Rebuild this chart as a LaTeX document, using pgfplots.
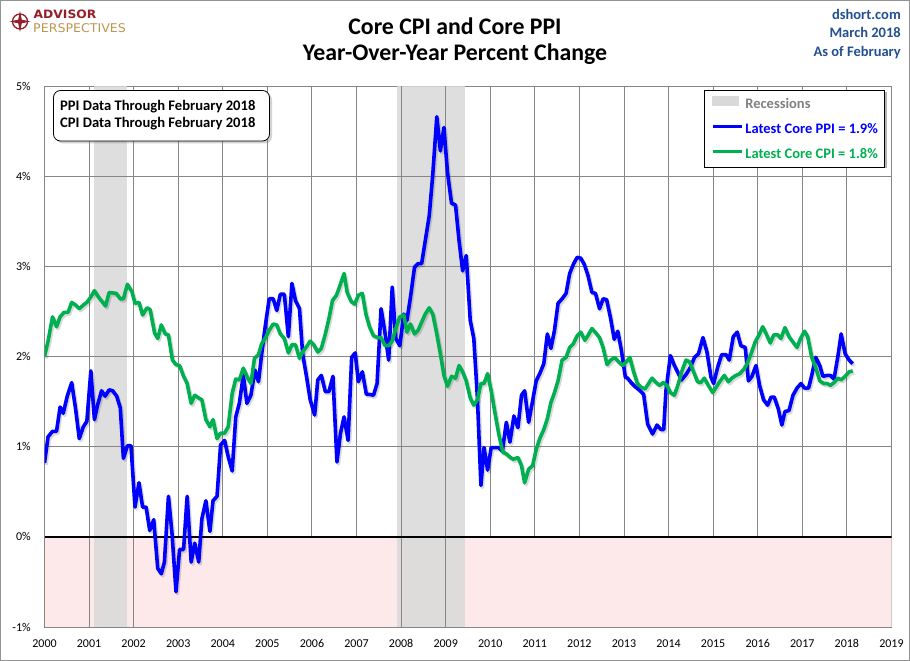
\documentclass[border=0pt]{standalone}
\usepackage{pgfplots}
\pgfplotsset{compat=1.18}
\usepackage{pgfplotstable}
\usepackage{fontspec}
\setmainfont{Carlito}
\newfontfamily\logofont{DejaVu Sans}
\usetikzlibrary{shadows}
\definecolor{ppiblue}{RGB}{0,0,255}
\definecolor{cpigreen}{RGB}{0,176,80}
\definecolor{recgray}{RGB}{217,217,217}
\definecolor{negpink}{RGB}{253,233,233}
\definecolor{gridgray}{RGB}{134,134,134}
\definecolor{hdrblue}{RGB}{35,80,145}
\definecolor{logored}{RGB}{150,30,40}
\definecolor{logogold}{RGB}{190,150,80}
\definecolor{leggray}{RGB}{128,128,128}

\pgfplotstableread{
x y
2000.00 0.82
2000.08 1.11
2000.18 1.17
2000.27 1.17
2000.35 1.44
2000.42 1.37
2000.51 1.56
2000.61 1.71
2000.70 1.41
2000.78 1.09
2000.87 1.22
2000.95 1.28
2001.04 1.84
2001.12 1.30
2001.19 1.46
2001.28 1.62
2001.36 1.56
2001.45 1.63
2001.53 1.62
2001.62 1.56
2001.70 1.43
2001.77 0.87
2001.86 1.01
2001.94 1.01
2002.03 0.33
2002.12 0.60
2002.20 0.33
2002.28 0.33
2002.36 0.07
2002.45 0.19
2002.54 -0.35
2002.62 -0.41
2002.69 -0.28
2002.78 0.45
2002.86 0.04
2002.95 -0.61
2003.03 -0.14
2003.12 -0.14
2003.20 0.45
2003.29 -0.28
2003.37 -0.07
2003.46 -0.28
2003.53 0.20
2003.62 0.40
2003.71 0.06
2003.78 0.40
2003.87 0.45
2003.95 1.02
2004.04 1.07
2004.12 0.89
2004.21 0.73
2004.29 1.33
2004.37 1.48
2004.46 1.79
2004.54 1.48
2004.63 1.57
2004.72 1.85
2004.80 1.72
2004.87 2.02
2004.95 2.33
2005.04 2.64
2005.13 2.64
2005.21 2.51
2005.29 2.69
2005.38 2.69
2005.47 2.22
2005.55 2.81
2005.63 2.62
2005.72 2.53
2005.79 2.03
2005.88 1.77
2005.96 1.52
2006.06 1.35
2006.13 1.74
2006.21 1.79
2006.30 1.61
2006.38 1.61
2006.47 1.78
2006.56 0.83
2006.64 1.15
2006.72 1.33
2006.81 1.07
2006.89 1.99
2006.97 2.04
2007.04 1.72
2007.13 1.83
2007.22 1.58
2007.29 1.58
2007.38 1.57
2007.46 1.70
2007.55 2.53
2007.63 2.29
2007.72 1.96
2007.80 2.77
2007.88 2.20
2007.97 2.12
2008.06 2.47
2008.13 2.40
2008.21 2.66
2008.30 2.99
2008.38 3.03
2008.46 3.03
2008.54 3.28
2008.63 3.56
2008.71 4.02
2008.80 4.66
2008.88 4.28
2008.96 4.54
2009.04 4.04
2009.13 3.70
2009.22 3.68
2009.30 3.28
2009.38 2.95
2009.46 3.12
2009.55 2.40
2009.63 2.20
2009.71 1.55
2009.79 0.57
2009.86 0.99
2009.94 0.74
2010.02 0.99
2010.11 0.99
2010.19 0.99
2010.27 0.95
2010.36 1.27
2010.44 1.05
2010.53 1.34
2010.62 1.21
2010.70 1.57
2010.77 1.62
2010.86 1.27
2010.95 1.51
2011.03 1.73
2011.11 1.81
2011.20 1.92
2011.28 2.25
2011.36 2.09
2011.44 2.29
2011.52 2.59
2011.61 2.64
2011.70 2.70
2011.78 2.92
2011.87 3.03
2011.95 3.10
2012.03 3.09
2012.11 3.02
2012.19 2.90
2012.28 2.71
2012.36 2.70
2012.45 2.53
2012.53 2.64
2012.61 2.63
2012.70 2.42
2012.78 2.19
2012.86 2.28
2012.94 2.07
2013.03 1.77
2013.08 1.76
2013.16 1.71
2013.24 1.67
2013.34 1.63
2013.44 1.58
2013.53 1.25
2013.64 1.14
2013.74 1.24
2013.83 1.19
2013.89 1.19
2013.94 1.62
2014.04 2.01
2014.13 1.90
2014.20 1.83
2014.29 1.74
2014.39 1.80
2014.49 1.88
2014.58 1.99
2014.67 2.03
2014.77 2.21
2014.86 2.05
2014.95 1.77
2015.01 1.70
2015.10 1.88
2015.19 2.02
2015.29 2.02
2015.36 1.96
2015.45 2.22
2015.54 2.27
2015.62 2.12
2015.72 2.10
2015.79 1.73
2015.87 1.78
2015.96 1.90
2016.04 1.68
2016.13 1.52
2016.22 1.46
2016.30 1.55
2016.37 1.55
2016.46 1.42
2016.54 1.24
2016.61 1.39
2016.70 1.40
2016.79 1.57
2016.88 1.65
2016.97 1.70
2017.05 1.65
2017.14 1.65
2017.21 1.79
2017.30 1.99
2017.39 1.90
2017.46 1.78
2017.55 1.79
2017.63 1.79
2017.71 1.75
2017.80 2.01
2017.87 2.25
2017.96 2.03
2018.05 1.96
2018.13 1.92
}\ppidata

\pgfplotstableread{
x y
2000.00 2.00
2000.08 2.17
2000.18 2.44
2000.27 2.33
2000.35 2.44
2000.44 2.49
2000.53 2.49
2000.61 2.60
2000.70 2.57
2000.78 2.53
2000.87 2.57
2000.95 2.60
2001.04 2.66
2001.12 2.73
2001.21 2.66
2001.37 2.56
2001.45 2.71
2001.61 2.70
2001.70 2.64
2001.77 2.64
2001.86 2.80
2001.96 2.72
2002.03 2.59
2002.12 2.60
2002.20 2.46
2002.30 2.54
2002.37 2.52
2002.47 2.26
2002.54 2.20
2002.62 2.35
2002.71 2.25
2002.78 2.24
2002.87 1.96
2002.95 1.91
2003.03 1.90
2003.12 1.78
2003.20 1.70
2003.29 1.48
2003.37 1.57
2003.46 1.54
2003.53 1.52
2003.62 1.30
2003.71 1.22
2003.78 1.30
2003.87 1.09
2003.95 1.15
2004.04 1.15
2004.12 1.22
2004.21 1.59
2004.29 1.75
2004.37 1.74
2004.46 1.87
2004.56 1.76
2004.63 1.70
2004.71 1.98
2004.80 2.02
2004.87 2.14
2004.96 2.21
2005.04 2.29
2005.13 2.36
2005.21 2.35
2005.29 2.25
2005.38 2.20
2005.47 2.04
2005.55 2.13
2005.63 2.13
2005.72 1.98
2005.79 2.05
2005.88 2.11
2005.96 2.17
2006.04 2.13
2006.13 2.05
2006.21 2.09
2006.30 2.25
2006.38 2.42
2006.46 2.62
2006.55 2.68
2006.63 2.79
2006.72 2.92
2006.79 2.71
2006.88 2.61
2006.96 2.58
2007.04 2.68
2007.13 2.70
2007.21 2.47
2007.29 2.33
2007.38 2.23
2007.47 2.21
2007.55 2.21
2007.64 2.12
2007.72 2.12
2007.80 2.17
2007.88 2.31
2007.97 2.44
2008.06 2.46
2008.13 2.27
2008.21 2.36
2008.30 2.25
2008.38 2.29
2008.46 2.38
2008.54 2.47
2008.63 2.54
2008.71 2.47
2008.80 2.25
2008.88 2.03
2008.96 1.79
2009.04 1.67
2009.13 1.78
2009.22 1.76
2009.30 1.90
2009.38 1.83
2009.46 1.73
2009.55 1.54
2009.63 1.46
2009.71 1.52
2009.79 1.70
2009.86 1.70
2009.94 1.81
2010.02 1.62
2010.11 1.36
2010.19 1.14
2010.28 0.94
2010.36 0.92
2010.45 0.88
2010.52 0.86
2010.62 0.88
2010.70 0.79
2010.77 0.60
2010.86 0.75
2010.95 0.79
2011.03 0.97
2011.11 1.09
2011.20 1.19
2011.28 1.31
2011.36 1.49
2011.44 1.60
2011.52 1.73
2011.61 1.96
2011.70 1.99
2011.78 2.10
2011.86 2.14
2011.95 2.23
2012.03 2.27
2012.12 2.18
2012.20 2.24
2012.28 2.31
2012.37 2.26
2012.45 2.21
2012.53 2.10
2012.62 1.91
2012.70 1.96
2012.79 1.99
2012.88 1.94
2012.97 1.90
2013.05 1.94
2013.13 1.99
2013.21 1.84
2013.30 1.70
2013.38 1.66
2013.47 1.64
2013.55 1.70
2013.63 1.76
2013.72 1.71
2013.80 1.68
2013.88 1.71
2013.96 1.68
2014.04 1.60
2014.13 1.57
2014.22 1.70
2014.30 1.84
2014.39 1.96
2014.47 1.94
2014.56 1.83
2014.65 1.72
2014.72 1.71
2014.80 1.76
2014.89 1.68
2014.99 1.60
2015.08 1.67
2015.16 1.73
2015.25 1.79
2015.34 1.72
2015.42 1.76
2015.51 1.79
2015.60 1.81
2015.69 1.86
2015.76 1.92
2015.85 2.03
2015.94 2.16
2016.02 2.23
2016.11 2.33
2016.19 2.25
2016.28 2.15
2016.36 2.24
2016.45 2.24
2016.52 2.20
2016.61 2.32
2016.70 2.22
2016.79 2.16
2016.88 2.10
2016.96 2.20
2017.05 2.28
2017.12 2.22
2017.21 1.99
2017.30 1.88
2017.39 1.73
2017.48 1.70
2017.56 1.70
2017.63 1.68
2017.71 1.71
2017.80 1.76
2017.87 1.74
2017.96 1.78
2018.05 1.83
2018.13 1.84
}\cpidata

\begin{document}
\begin{tikzpicture}[x=1pt,y=1pt]
\path[use as bounding box] (0,0) rectangle (910,661);
\fill[white] (0,0) rectangle (910,661);
\draw[gray!85, line width=1pt] (0.5,0.5) rectangle (909.5,660.5);

% logo
\draw[logored, line width=1.3pt] (20,639.5) circle (7.5);
\fill[logored] (20,650) -- (21.8,641.3) -- (30.5,639.5) -- (21.8,637.7) -- (20,629) -- (18.2,637.7) -- (9.5,639.5) -- (18.2,641.3) -- cycle;
\node[anchor=base west, inner sep=0pt, text=logored, font=\logofont\fontsize{11.5}{13}\selectfont\bfseries] at (33.5,642.7) {\scalebox{1.07}[1]{ADVISOR}};
\node[anchor=base west, inner sep=0pt, text=logogold, font=\logofont\fontsize{12}{14}\selectfont] at (33,628.7) {\scalebox{1.05}[1]{PERSPECTIVES}};

% titles
\node[anchor=base, inner sep=0pt, font=\fontsize{23.8}{26}\selectfont\bfseries] at (455,626.6) {Core CPI and Core PPI};
\node[anchor=base, inner sep=0pt, font=\fontsize{23.8}{26}\selectfont\bfseries] at (455,600) {Year-Over-Year Percent Change};
\node[anchor=base east, inner sep=0pt, text=hdrblue, font=\fontsize{14.5}{16}\selectfont\bfseries] at (901,641.3) {dshort.com};
\node[anchor=base east, inner sep=0pt, text=hdrblue, font=\fontsize{14.5}{16}\selectfont\bfseries] at (901,623.6) {March 2018};
\node[anchor=base east, inner sep=0pt, text=hdrblue, font=\fontsize{14.5}{16}\selectfont\bfseries] at (901,604.6) {As of February};

% legend shadow (behind)
\fill[black, opacity=0.3] (709.2,492.5) rectangle (886.8,568.5);

\begin{axis}[
  at={(44.5pt,34pt)}, anchor=south west,
  scale only axis, width=847pt, height=541pt,
  xmin=2000, xmax=2019, ymin=-1, ymax=5,
  xtick={2000,...,2019}, ytick={-1,0,...,5},
  grid=major, grid style={gridgray, line width=0.9pt},
  major tick length=0pt,
  axis line style={gridgray, line width=0.9pt},
  /pgf/number format/1000 sep={},
  /pgf/number format/assume math mode=true,
  xticklabel style={font=\fontsize{12}{14}\selectfont, anchor=base, inner sep=0pt, yshift=-21pt},
  yticklabel={\pgfmathprintnumber{\tick}\%},
  yticklabel style={font=\fontsize{12}{14}\selectfont, anchor=east, inner sep=0pt, xshift=-13.5pt},
  legend style={at={(0.9915,0.9926)}, anchor=north east, draw=black, line width=0.8pt, fill=white,
    font=\fontsize{14.5}{16}\selectfont\bfseries, inner xsep=6pt, inner ysep=6pt, row sep=12pt,
    cells={anchor=west}, nodes={inner sep=0pt, text height=10pt, text depth=3pt}},
  legend image code/.code={\draw[#1] (0pt,4pt) -- (29pt,4pt); \path (0pt,0pt) (31pt,0pt);},
]
\addlegendimage{legend image code/.code={\fill[recgray] (0pt,0pt) rectangle (26pt,8.5pt); \path (31pt,0pt);}}
\addlegendentry{\textcolor{leggray}{Recessions}}
\addlegendimage{ppiblue, line width=3.6pt}
\addlegendentry{\textcolor{ppiblue}{Latest Core PPI = 1.9\%}}
\addlegendimage{cpigreen, line width=3.6pt}
\addlegendentry{\textcolor{cpigreen}{Latest Core CPI = 1.8\%}}

\addplot[fill=negpink, draw=none, forget plot] coordinates {(2000,-1) (2000,0) (2019,0) (2019,-1)} -- cycle;
\addplot[fill=recgray, fill opacity=0.85, draw=none, forget plot] coordinates {(2001.12,-1) (2001.12,5) (2001.86,5) (2001.86,-1)} -- cycle;
\addplot[fill=recgray, fill opacity=0.85, draw=none, forget plot] coordinates {(2007.91,-1) (2007.91,5) (2009.44,5) (2009.44,-1)} -- cycle;
% redraw grid lines over the shaded areas
\pgfplotsinvokeforeach{2001,2002,2008,2009}{\addplot[gridgray, line width=0.9pt, forget plot] coordinates {(#1,-1) (#1,5)};}
\pgfplotsinvokeforeach{-1,1,2,3,4}{\addplot[gridgray, line width=0.9pt, forget plot] coordinates {(2000,#1) (2019,#1)};}
\addplot[black, line width=2pt, forget plot] coordinates {(2000,0) (2019,0)};

\addplot[black, opacity=0.15, line width=3.6pt, line join=round, forget plot, shift={(1.5pt,-2pt)}] table {\ppidata};
\addplot[black, opacity=0.15, line width=3.6pt, line join=round, forget plot, shift={(1.5pt,-2pt)}] table {\cpidata};
\addplot[ppiblue, line width=3.6pt, line join=round, forget plot] table {\ppidata};
\addplot[cpigreen, line width=3.6pt, line join=round, forget plot] table {\cpidata};
\end{axis}

% data-through box
\draw[black, line width=0.8pt, rounded corners=7pt, fill=white,
  drop shadow={shadow xshift=2.5pt, shadow yshift=-2.5pt, opacity=0.35}] (53.5,520) rectangle (269.5,570.5);
\node[anchor=base west, inner sep=0pt, font=\fontsize{14.6}{16}\selectfont\bfseries] at (60,550.8) {PPI Data Through February 2018};
\node[anchor=base west, inner sep=0pt, font=\fontsize{14.6}{16}\selectfont\bfseries] at (60,533.2) {CPI Data Through February 2018};
\end{tikzpicture}
\end{document}
